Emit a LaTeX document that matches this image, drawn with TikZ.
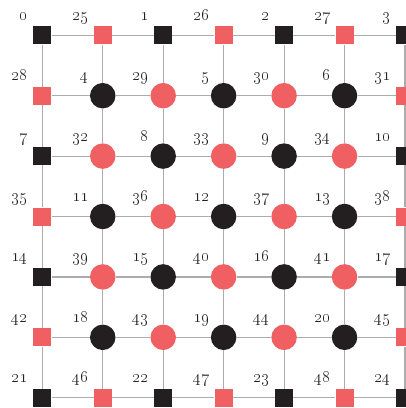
\documentclass[tikz,border=0pt]{standalone}
\definecolor{qblack}{RGB}{35,31,32}
\definecolor{qred}{RGB}{240,96,98}
\definecolor{qgrid}{RGB}{172,172,172}
\begin{document}
\begin{tikzpicture}[x=1pt,y=-1pt,
  sqnode/.style={rectangle, minimum size=18pt, inner sep=0pt, draw=none},
  circnode/.style={circle, minimum size=25.5pt, inner sep=0pt, draw=none},
  numlabel/.style={anchor=base east, inner sep=0pt, font=\fontsize{17.5}{20}\selectfont, text=qblack},
  gridline/.style={draw=qgrid, line width=1.2pt}]
\clip (0,0) rectangle (406,408);
\foreach \r in {0,...,6}{
  \foreach \c in {0,...,6}{
    \pgfmathsetmacro\xx{42.3+60.45*\c}
    \pgfmathsetmacro\yy{35.3+60.4*\r}
    \pgfmathtruncatemacro\qodd{mod(\r+\c,2)}
    \pgfmathtruncatemacro\qbnd{(\r==0)||(\r==6)||(\c==0)||(\c==6)}
    \pgfmathtruncatemacro\qnum{\qodd==0 ? 4*ceil(\r/2)+3*floor(\r/2)+floor(\c/2) : 25+3*ceil(\r/2)+4*floor(\r/2)+floor(\c/2)}
    \ifnum\qodd=0 \def\qcol{qblack}\else\def\qcol{qred}\fi
    \ifnum\qbnd=1
      \node[sqnode, fill=\qcol] (g-\r-\c) at (\xx,\yy) {};
    \else
      \node[circnode, fill=\qcol] (g-\r-\c) at (\xx,\yy) {};
    \fi
    \node[numlabel] (l-\r-\c) at (\xx-14,\yy-15) {\oldstylenums{\qnum}};
  }
}
\foreach \r in {0,...,6}{
  \foreach \c in {0,...,5}{
    \pgfmathtruncatemacro\cc{\c+1}
    \draw[gridline] (g-\r-\c) -- (g-\r-\cc);
    \draw[gridline] (g-\c-\r) -- (g-\cc-\r);
  }
}
\end{tikzpicture}
\end{document}
